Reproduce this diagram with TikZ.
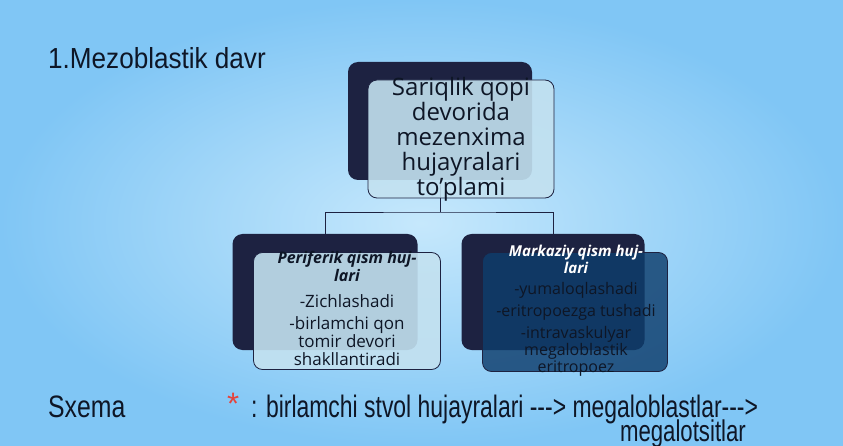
\documentclass[tikz,border=0pt]{standalone}
\usepackage{fontspec}
\setmainfont{Liberation Sans}
\newfontfamily\boxfont{Open Sans}
\usetikzlibrary{positioning}

\definecolor{navy}{HTML}{1D2241}
\definecolor{paleblue}{HTML}{C3E1F0}
\definecolor{deepblue}{HTML}{0E3D6C}
\definecolor{inktext}{HTML}{0E1626}
\definecolor{starred}{HTML}{E5433B}
\definecolor{bgin}{HTML}{C6E8FC}
\definecolor{bgout}{HTML}{80C6F5}

\tikzset{
  backbox/.style={rectangle, rounded corners=10pt, fill=navy, inner sep=0pt},
  lightbox/.style={rectangle, rounded corners=9pt, draw=navy, line width=0.8pt,
    fill=paleblue, fill opacity=0.9, inner sep=0pt},
  darkbox/.style={rectangle, rounded corners=9pt, draw=navy, line width=0.8pt,
    fill=deepblue, fill opacity=0.82, inner sep=0pt},
  boxtext/.style={align=center, inner sep=0pt, text=inktext, anchor=north},
  link/.style={draw=navy, line width=0.9pt},
  slidetext/.style={inner sep=0pt, text=inktext, anchor=base west}
}

\begin{document}
\begin{tikzpicture}[x=1pt,y=-1pt]
\shade[inner color=bgin, outer color=bgout] (0,0) rectangle (843,446);
\useasboundingbox (0,0) rectangle (843,446);

% title
\node[slidetext, xscale=0.9, font=\fontsize{29}{31}\selectfont] (title) at (48,69) {1.Mezoblastik davr};

% back boxes
\node[backbox, minimum width=184pt, minimum height=118pt] (topback) at (440,121) {};
\node[backbox, minimum width=185pt, minimum height=116pt] (leftback) at (325,292) {};
\node[backbox, minimum width=183pt, minimum height=116pt] (rightback) at (553,292) {};

% connectors
\coordinate (fork) at (440,212);
\draw[link] (topback.south) -- (fork);
\draw[link] (leftback.north) |- (fork) -| (rightback.north);

% front boxes
\node[lightbox, minimum width=186pt, minimum height=118pt] (topfront) at (461,139) {};
\node[lightbox, minimum width=187pt, minimum height=117pt] (leftfront) at (347,311) {};
\node[darkbox, minimum width=185pt, minimum height=119pt] (rightfront) at (575,312) {};

% texts
\node[boxtext, font=\boxfont\fontsize{24}{25}\selectfont] (toplabel) at (461,77)
  {Sariqlik qopi\\devorida\\mezenxima\\hujayralari\\to’plami};
\node[boxtext, font=\boxfont\fontsize{17}{18}\selectfont] (leftlabel) at (347,251)
  {{\fontsize{16}{18}\selectfont\bfseries\itshape Periferik qism huj-}\\
   {\fontsize{16}{18}\selectfont\bfseries\itshape lari}\\[8pt]
   -Zichlashadi\\[4pt]
   -birlamchi qon\\tomir devori\\shakllantiradi};
\node[boxtext, font=\boxfont\fontsize{16}{17}\selectfont] (rightlabel) at (576,245)
  {{\fontsize{15}{17}\selectfont\bfseries\itshape\color{white} Markaziy qism huj-}\\
   {\fontsize{15}{17}\selectfont\bfseries\itshape\color{white} lari}\\[4pt]
   -yumaloqlashadi\\[5pt]
   -eritropoezga tushadi\\[5pt]
   -intravaskulyar\\megaloblastik\\eritropoez};

% scheme line
\node[slidetext, xscale=0.8, font=\fontsize{31}{33}\selectfont] (scheme) at (48,417) {Sxema};
\node[slidetext, text=starred, font=\fontsize{31}{33}\selectfont] (star) at (227,414) {*};
\node[slidetext, xscale=0.74, font=\fontsize{31}{33}\selectfont] (chain) at (251,417)
  {: birlamchi stvol hujayralari {-}{-}{-}> megaloblastlar{-}{-}{-}>};
\node[slidetext, anchor=base east, xscale=0.74, font=\fontsize{30}{32}\selectfont] (chainend) at (746,441)
  {megalotsitlar};
\end{tikzpicture}
\end{document}
